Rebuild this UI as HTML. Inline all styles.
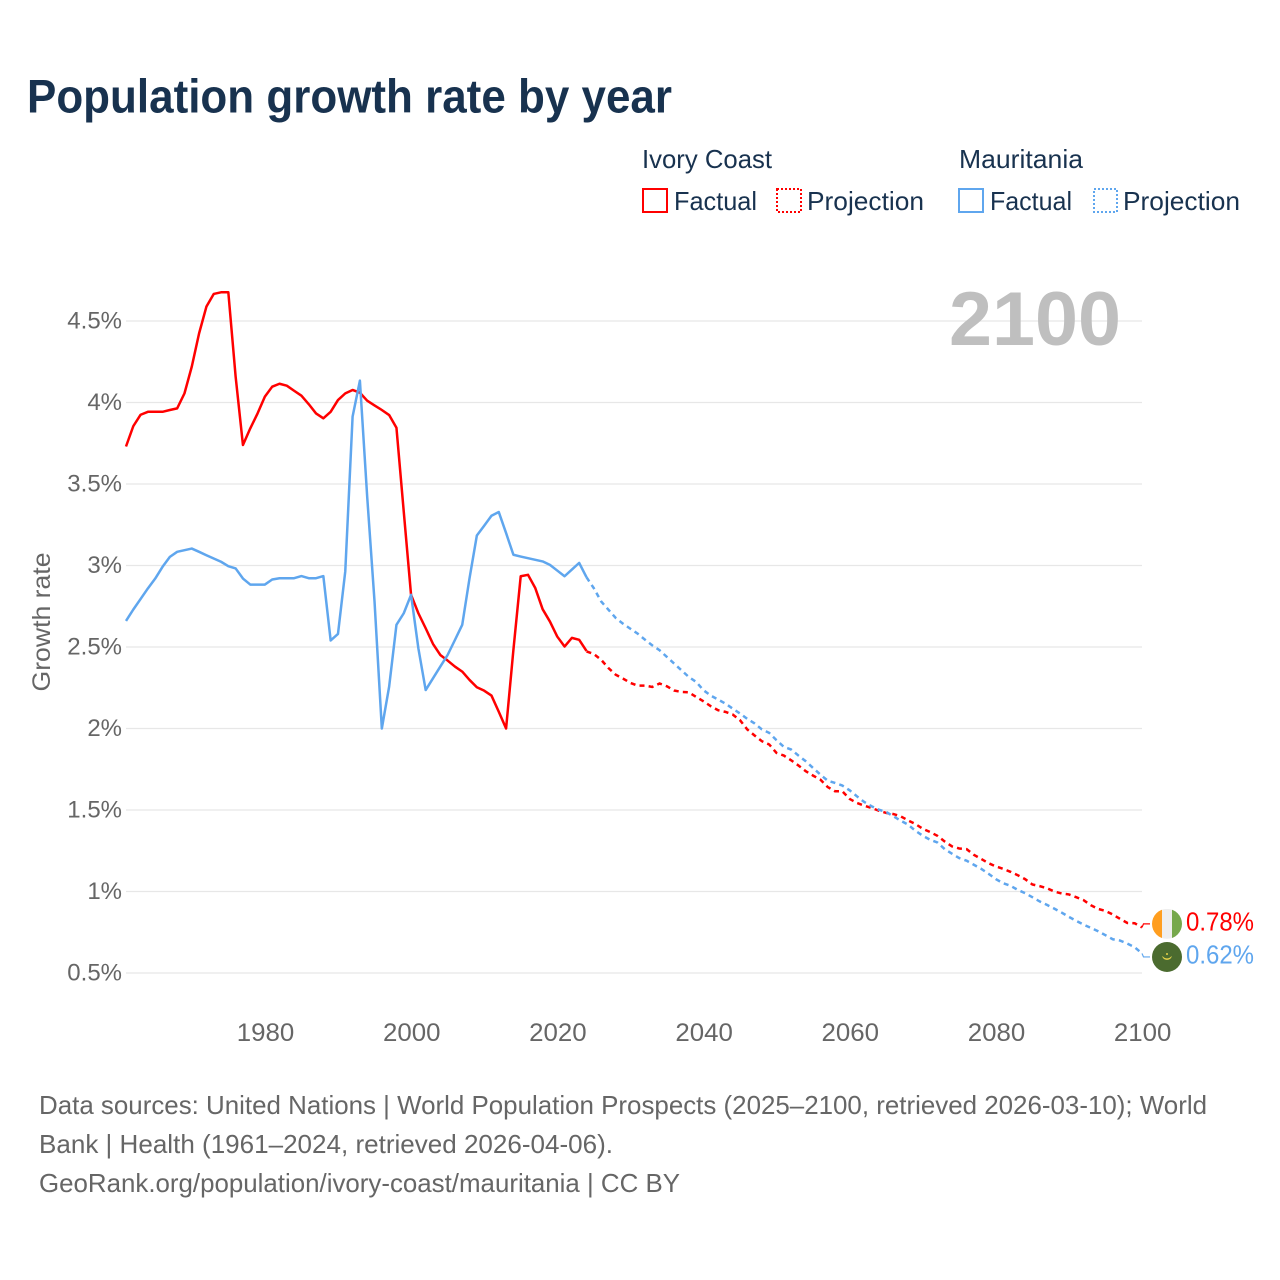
<!DOCTYPE html>
<html lang="en">
<head>
<meta charset="utf-8">
<title>Population growth rate by year</title>
<style>
html,body{margin:0;padding:0;background:#fff;}
svg{display:block;font-family:"Liberation Sans",sans-serif;}
</style>
</head>
<body>
<svg id="chart" width="1280" height="1280" viewBox="0 0 1280 1280" xmlns="http://www.w3.org/2000/svg">
  <rect x="0" y="0" width="1280" height="1280" fill="#fff"/>
  <text x="27" y="112.5" font-size="47" font-weight="700" fill="#18324f" textLength="645" lengthAdjust="spacingAndGlyphs">Population growth rate by year</text>

  <g font-size="26" fill="#18324f">
    <text x="642" y="168" textLength="130" lengthAdjust="spacingAndGlyphs">Ivory Coast</text>
    <text x="959" y="168" textLength="124" lengthAdjust="spacingAndGlyphs">Mauritania</text>
    <rect x="643" y="189" width="24" height="23" fill="none" stroke="#ff0000" stroke-width="2"/>
    <text x="674" y="210" textLength="83" lengthAdjust="spacingAndGlyphs">Factual</text>
    <rect x="777" y="189" width="24" height="23" fill="none" stroke="#ff0000" stroke-width="2" stroke-dasharray="2 2"/>
    <text x="807" y="210" textLength="117" lengthAdjust="spacingAndGlyphs">Projection</text>
    <rect x="959" y="189" width="24" height="23" fill="none" stroke="#5fa6ee" stroke-width="2"/>
    <text x="990" y="210" textLength="82" lengthAdjust="spacingAndGlyphs">Factual</text>
    <rect x="1094" y="189" width="23" height="23" fill="none" stroke="#5fa6ee" stroke-width="2" stroke-dasharray="2 2"/>
    <text x="1123" y="210" textLength="117" lengthAdjust="spacingAndGlyphs">Projection</text>
  </g>

  <g id="grid"></g>
  <text x="949" y="345" font-size="76" font-weight="700" fill="#bfbfbf" textLength="172" lengthAdjust="spacingAndGlyphs">2100</text>
  <g id="yTicks" font-size="24" fill="#666"></g>
  <g id="xTicks" font-size="25" fill="#666"></g>
  <text transform="translate(50,622) rotate(-90)" text-anchor="middle" font-size="25" fill="#666" textLength="139" lengthAdjust="spacingAndGlyphs">Growth rate</text>
  <g id="series"></g>
  <g id="ends"></g>

  <g font-size="26" fill="#666">
    <text x="39" y="1114" textLength="1168" lengthAdjust="spacingAndGlyphs">Data sources: United Nations | World Population Prospects (2025–2100, retrieved 2026-03-10); World</text>
    <text x="39" y="1153" textLength="574" lengthAdjust="spacingAndGlyphs">Bank | Health (1961–2024, retrieved 2026-04-06).</text>
    <text x="39" y="1192" textLength="641" lengthAdjust="spacingAndGlyphs">GeoRank.org/population/ivory-coast/mauritania | CC BY</text>
  </g>
</svg>
<script>
const factualStartYear = 1961;
const projectionStartYear = 2024;
const yTickValues = [0.5, 1, 1.5, 2, 2.5, 3, 3.5, 4, 4.5];
const yTickLabels = ["0.5%", "1%", "1.5%", "2%", "2.5%", "3%", "3.5%", "4%", "4.5%"];
const xTickYears = [1980, 2000, 2020, 2040, 2060, 2080, 2100];
const ivoryCoastFactual = [
  3.73, 3.855, 3.925, 3.943, 3.943, 3.943, 3.954, 3.964, 4.056, 4.22,
  4.424, 4.588, 4.666, 4.676, 4.676, 4.158, 3.739, 3.841, 3.933, 4.036,
  4.097, 4.115, 4.103, 4.072, 4.042, 3.99, 3.933, 3.903, 3.943, 4.015,
  4.056, 4.077, 4.06, 4.011, 3.982, 3.954, 3.923, 3.845,
  3.33, 2.82, 2.707, 2.615, 2.519, 2.451, 2.417, 2.38, 2.349, 2.298,
  2.253, 2.232, 2.202, 2.103, 2.0, 2.482, 2.934, 2.943, 2.861, 2.732,
  2.656, 2.564, 2.503, 2.556, 2.544, 2.476
];
const ivoryCoastProjection = [
  2.473, 2.457, 2.422, 2.371, 2.33, 2.306, 2.28, 2.263, 2.263, 2.255,
  2.276, 2.259, 2.233, 2.224, 2.222, 2.194, 2.167, 2.137, 2.112, 2.102,
  2.086, 2.051, 1.994, 1.957, 1.922, 1.902, 1.85, 1.834, 1.805, 1.773,
  1.738, 1.711, 1.686, 1.641, 1.615, 1.615, 1.568, 1.543, 1.527, 1.512,
  1.496, 1.482, 1.475, 1.461, 1.436, 1.414, 1.385, 1.365, 1.342, 1.307,
  1.277, 1.264, 1.26, 1.225, 1.2, 1.174, 1.154, 1.139, 1.121, 1.1,
  1.076, 1.043, 1.033, 1.02, 1.0, 0.988, 0.982, 0.965, 0.947, 0.916,
  0.893, 0.881, 0.859, 0.832, 0.807, 0.805, 0.78
];
const mauritaniaFactual = [
  2.66, 2.73, 2.795, 2.86, 2.92, 2.992, 3.053, 3.084, 3.094, 3.104,
  3.084, 3.063, 3.043, 3.023, 2.996, 2.982, 2.92, 2.883, 2.883, 2.883,
  2.914, 2.922, 2.922, 2.922, 2.935, 2.922, 2.922, 2.935, 2.54, 2.58,
  2.965, 3.913, 4.134, 3.42, 2.78, 2.0, 2.257, 2.636,
  2.707, 2.82, 2.492, 2.236, 2.308, 2.38, 2.451, 2.543, 2.636, 2.922,
  3.184, 3.244, 3.305, 3.328, 3.199, 3.066, 3.055, 3.045, 3.035, 3.025,
  3.004, 2.969, 2.934, 2.975, 3.016, 2.928
];
const mauritaniaProjection = [
  2.928, 2.861, 2.78, 2.729, 2.678, 2.643, 2.612, 2.582, 2.545, 2.51,
  2.48, 2.439, 2.398, 2.357, 2.316, 2.286, 2.235, 2.202, 2.178, 2.153,
  2.122, 2.092, 2.059, 2.031, 1.994, 1.973, 1.928, 1.887, 1.871, 1.834,
  1.799, 1.758, 1.717, 1.68, 1.666, 1.65, 1.621, 1.584, 1.549, 1.523,
  1.502, 1.488, 1.461, 1.434, 1.41, 1.373, 1.342, 1.318, 1.301, 1.26,
  1.232, 1.205, 1.189, 1.164, 1.139, 1.109, 1.076, 1.051, 1.035, 1.01,
  0.99, 0.965, 0.939, 0.918, 0.895, 0.871, 0.844, 0.82, 0.797, 0.777,
  0.756, 0.732, 0.707, 0.699, 0.68, 0.658, 0.62
];
const endLabelIvoryCoast = "0.78%";
const endLabelMauritania = "0.62%";

const SVG_NS = "http://www.w3.org/2000/svg";
const RED = "#ff0000";
const BLUE = "#5fa6ee";

function xScale(year) { return 126 + (year - 1961) * (1142 - 126) / (2100 - 1961); }
function yScale(value) { return 973 - (value - 0.5) * 163; }
function make(tag, attrs, parent) {
  const el = document.createElementNS(SVG_NS, tag);
  for (const k in attrs) el.setAttribute(k, attrs[k]);
  parent.appendChild(el);
  return el;
}
function pathFor(values, startYear) {
  return values.map(function (v, i) {
    return (i ? "L" : "M") + xScale(startYear + i).toFixed(2) + " " + yScale(v).toFixed(2);
  }).join(" ");
}

const grid = document.getElementById("grid");
const yTicks = document.getElementById("yTicks");
yTickValues.forEach(function (v, i) {
  const line = make("line", { x1: 126, x2: 1142, y1: yScale(v), y2: yScale(v), stroke: "#e7e7e7", "stroke-width": 1.2 }, grid);
  
  
  const label = make("text", { x: 122, y: yScale(v) + 7.5, "text-anchor": "end" }, yTicks);
  
  
  label.textContent = yTickLabels[i];
});

const xTicks = document.getElementById("xTicks");
xTickYears.forEach(function (year) {
  const label = make("text", { x: xScale(year) + 0.7, y: 1041, "text-anchor": "middle", textLength: 57.5, lengthAdjust: "spacingAndGlyphs" }, xTicks);
  
  
  label.textContent = String(year);
});

const series = document.getElementById("series");
function drawSeries(factual, projection, color, key) {
  const solid = make("path", { d: pathFor(factual, factualStartYear), fill: "none", stroke: color, "stroke-width": 2.5, "stroke-linejoin": "round" }, series);
  
  
  const dashed = make("path", { d: pathFor(projection, projectionStartYear), fill: "none", stroke: color, "stroke-width": 2.5, "stroke-dasharray": "5 4.2" }, series);
  
  
}
drawSeries(ivoryCoastFactual, ivoryCoastProjection, RED, "ivory-coast");
drawSeries(mauritaniaFactual, mauritaniaProjection, BLUE, "mauritania");

const ends = document.getElementById("ends");
function drawEnd(values, color, labelText, offset, key) {
  const endValue = values[values.length - 1];
  const y0 = yScale(endValue);
  const y1 = y0 + offset;
  const connector = make("path", { d: "M1142 " + y0 + " L1143.5 " + y1 + " L1150 " + y1, fill: "none", stroke: color, "stroke-width": 1.2 }, ends);
  
  
  const label = make("text", { x: 1186, y: y1 + 6.5, "font-size": 26, fill: color, textLength: 68, lengthAdjust: "spacingAndGlyphs" }, ends);
  
  
  label.textContent = labelText;
  return y1;
}
const civY = drawEnd(ivoryCoastProjection, RED, endLabelIvoryCoast, -3.5, "ivory-coast");
const mrtY = drawEnd(mauritaniaProjection, BLUE, endLabelMauritania, 3.5, "mauritania");

const civFlag = make("g", {}, ends);


const civClip = make("clipPath", { id: "civClip" }, civFlag);
make("circle", { cx: 1167, cy: civY, r: 15 }, civClip);
const civBands = make("g", { "clip-path": "url(#civClip)" }, civFlag);
make("rect", { x: 1152, y: civY - 15, width: 10, height: 30, fill: "#ff9e1f" }, civBands);
make("rect", { x: 1162, y: civY - 15, width: 10, height: 30, fill: "#eeeeee" }, civBands);
make("rect", { x: 1172, y: civY - 15, width: 10, height: 30, fill: "#76a84c" }, civBands);

const mrtFlag = make("g", {}, ends);


make("circle", { cx: 1167, cy: mrtY, r: 15, fill: "#4b6b2f" }, mrtFlag);
make("path", { d: "M1162.5 " + (mrtY - 0.5) + " A4.8 4.8 0 0 0 1171.5 " + (mrtY - 0.5) + " A5.6 5.6 0 0 1 1162.5 " + (mrtY - 0.5) + " Z", fill: "#e8d44a", stroke: "#e8d44a", "stroke-width": 0.6 }, mrtFlag);
make("circle", { cx: 1167, cy: mrtY - 3, r: 1, fill: "#e8d44a" }, mrtFlag);
</script>
</body>
</html>
